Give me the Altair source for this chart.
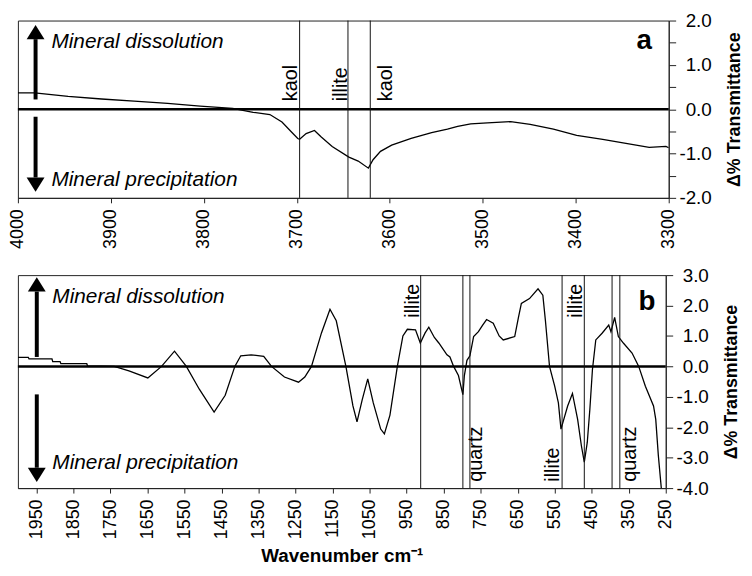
import altair as alt
import pandas as pd

FONT = "Liberation Sans"

# ---------------- panel a (4000-3300 cm-1) ----------------
a_wn = [4000, 3982, 3946, 3910, 3875, 3839, 3804, 3769, 3747, 3729, 3716, 3706, 3699, 3697,
        3690, 3681, 3674, 3662, 3644, 3634, 3623, 3618, 3610, 3598, 3577, 3555, 3538,
        3527, 3513, 3495, 3470, 3449, 3424, 3399, 3371, 3346, 3321, 3303, 3300]
a_val = [0.37, 0.37, 0.29, 0.23, 0.18, 0.13, 0.07, 0.02, -0.07, -0.12, -0.29, -0.51, -0.66, -0.68,
         -0.55, -0.48, -0.62, -0.84, -1.08, -1.17, -1.33, -1.14, -0.95, -0.81, -0.66, -0.53, -0.45,
         -0.39, -0.33, -0.31, -0.28, -0.34, -0.45, -0.59, -0.68, -0.77, -0.86, -0.84, -0.87]
a_xticks = [4000, 3900, 3800, 3700, 3600, 3500, 3400, 3300]
a_yticks = [-2.0, -1.5, -1.0, -0.5, 0.0, 0.5, 1.0, 1.5, 2.0]
a_lines = [3697, 3645, 3621]
a_lab_text = ["kaol", "illite", "kaol"]
a_lab_wn = [3700, 3646, 3598]
a_lab_y = [0.18, 0.18, 0.18]

# ---------------- panel b (2000-250 cm-1) ----------------
b_wn = [2000, 1972, 1970, 1908, 1906, 1886, 1884, 1814, 1812, 1740,
        1700, 1649, 1612, 1577, 1545, 1510, 1470, 1440, 1414, 1398,
        1370, 1336, 1315, 1280, 1242, 1225, 1207, 1180, 1157, 1140,
        1114, 1095, 1084, 1070, 1055, 1040, 1020, 1010, 995, 975,
        960, 948, 926, 913, 900, 890, 875, 863, 841, 833,
        823, 810, 798, 794, 787, 779, 769, 756, 745, 734,
        716, 700, 689, 658, 648, 640, 618, 595, 582, 575,
        564, 550, 540, 533, 515, 502, 488, 478, 470, 462,
        455, 448, 439, 422, 404, 398, 388, 378, 364, 341,
        323, 305, 283, 277, 270, 262]
b_val = [0.30, 0.30, 0.25, 0.25, 0.16, 0.16, 0.09, 0.09, 0.02, 0.0,
         -0.15, -0.38, 0.0, 0.5, 0.0, -0.75, -1.5, -0.95, 0.0, 0.35,
         0.38, 0.33, 0.0, -0.35, -0.52, -0.35, 0.0, 1.1, 1.88, 1.5,
         0.0, -1.3, -1.82, -1.1, -0.41, -1.2, -2.06, -2.22, -1.6, 0.0,
         1.0, 1.22, 1.2, 0.77, 1.1, 1.29, 0.95, 0.77, 0.38, 0.31,
         0.0, -0.3, -0.93, -0.3, 0.2, 0.35, 0.98, 1.14, 1.35, 1.54,
         1.42, 1.0, 0.87, 0.98, 1.6, 2.07, 2.23, 2.55, 2.34, 1.5,
         0.0, -0.65, -1.2, -2.06, -1.3, -0.89, -1.74, -2.6, -3.15, -2.5,
         -1.41, -0.1, 0.87, 1.09, 1.36, 1.14, 1.61, 0.98, 0.76, 0.44,
         0.0, -0.65, -1.3, -1.74, -2.93, -4.0]
b_xticks = [1950, 1850, 1750, 1650, 1550, 1450, 1350, 1250, 1150, 1050,
            950, 850, 750, 650, 550, 450, 350, 250]
b_yticks = [-4.0, -3.0, -2.0, -1.0, 0.0, 1.0, 2.0, 3.0]
b_lines = [912, 798, 779, 530, 470, 395, 374]
b_lab_text = ["illite", "quartz", "illite", "illite", "quartz"]
b_lab_wn = [917, 747, 537, 477, 331]
b_lab_y = [1.6, -3.79, -3.79, 1.6, -3.79]

UP = "M-1,0L1,0L0,-1.6Z"
DOWN = "M-1,0L1,0L0,1.6Z"

LABEL_EXPR_HALF = ("datum.value % 1 == 0 ? (datum.value < 0 ? '-' : '') + "
                   "format(abs(datum.value), '.1f') : ''")
LABEL_EXPR = "(datum.value < 0 ? '-' : '') + format(abs(datum.value), '.1f')"


def panel(wn, val, xdom, xticks, xtitle, ydom, yticks, lexpr, vlines,
          lab_wn, lab_y, lab_text, arrow_wn, up, down, mt_wn, mt_y, letter_pos,
          letter, w, h):
    xaxis_kw = dict(values=xticks, format="d", labelAngle=270, labelFontSize=18,
                    labelPadding=6, tickSize=5, labelFlush=False, labelOverlap=False,
                    grid=False)
    if xtitle:
        xaxis_kw.update(title=xtitle, titleFontSize=19, titleFontWeight="bold",
                        titlePadding=8)
    else:
        xaxis_kw.update(title=None)
    X = alt.X("wn:Q", scale=alt.Scale(domain=xdom, nice=False, zero=False),
              axis=alt.Axis(**xaxis_kw))
    Y = alt.Y("v:Q", scale=alt.Scale(domain=ydom, nice=False, zero=False),
              axis=alt.Axis(orient="right", values=yticks, labelExpr=lexpr,
                            labelAlign="right", labelPadding=36, tickSize=7,
                            labelFontSize=19, labelOverlap=False, labelFlush=False,
                            grid=False, title="Δ% Transmittance", titleAngle=270,
                            titleBaseline="top", titlePadding=14, titleFontSize=18,
                            titleFontWeight="bold"))

    line = alt.Chart(pd.DataFrame({"wn": wn, "v": val})).mark_line(
        color="black", strokeWidth=1.3, clip=True).encode(x=X, y=Y)
    zero = alt.Chart(pd.DataFrame({"v": [0.0]})).mark_rule(
        color="black", strokeWidth=2.5).encode(y=Y)
    vl = alt.Chart(pd.DataFrame({"wn": vlines})).mark_rule(
        color="#111", strokeWidth=1).encode(x=X)
    labs = alt.Chart(pd.DataFrame({"wn": lab_wn, "v": lab_y, "t": lab_text})).mark_text(
        angle=270, align="left", baseline="alphabetic", font=FONT, fontSize=20,
        color="black").encode(x=X, y=Y, text="t:N")
    shafts = alt.Chart(pd.DataFrame({"wn": [arrow_wn, arrow_wn],
                                     "v": [up[0], down[0]],
                                     "v2": [up[1], down[1]]})).mark_rule(
        color="black", strokeWidth=4, strokeCap="butt").encode(x=X, y=Y, y2="v2:Q")
    head_up = alt.Chart(pd.DataFrame({"wn": [arrow_wn], "v": [up[1]]})).mark_point(
        shape=UP, size=324, filled=True, color="black", opacity=1, strokeWidth=0
    ).encode(x=X, y=Y)
    head_dn = alt.Chart(pd.DataFrame({"wn": [arrow_wn], "v": [down[1]]})).mark_point(
        shape=DOWN, size=324, filled=True, color="black", opacity=1, strokeWidth=0
    ).encode(x=X, y=Y)
    mtext = alt.Chart(pd.DataFrame({"wn": [mt_wn, mt_wn], "v": mt_y,
                                    "t": ["Mineral dissolution", "Mineral precipitation"]})
                      ).mark_text(align="left", baseline="alphabetic", font=FONT,
                                  fontStyle="italic", fontSize=21, color="black"
                                  ).encode(x=X, y=Y, text="t:N")
    let = alt.Chart(pd.DataFrame({"wn": [letter_pos[0]], "v": [letter_pos[1]],
                                  "t": [letter]})).mark_text(
        align="right", baseline="alphabetic", font=FONT, fontWeight="bold",
        fontSize=28, color="black").encode(x=X, y=Y, text="t:N")
    return alt.layer(line, zero, vl, labs, shafts, head_up, head_dn, mtext, let
                     ).properties(width=w, height=h)


pa = panel(a_wn, a_val, [4000, 3300], a_xticks, None, [-2, 2], a_yticks, LABEL_EXPR_HALF,
           a_lines, a_lab_wn, a_lab_y, a_lab_text, 3981, (0.22, 1.58), (-0.17, -1.54),
           3964, [1.38, -1.74], (3318, 1.36), "a", 657, 179)
pb = panel(b_wn, b_val, [2000, 250], b_xticks, "Wavenumber cm⁻¹", [-4, 3], b_yticks,
           LABEL_EXPR, b_lines, b_lab_wn, b_lab_y, b_lab_text, 1949, (0.31, 2.46),
           (-0.92, -3.33), 1907, [2.08, -3.37], (278, 1.85), "b", 654, 215)

chart = alt.vconcat(pa, pb, spacing=16).properties(
    padding={"left": 0, "top": 0, "right": 0, "bottom": 0}
).configure_view(stroke="#222", strokeWidth=1).configure_axis(
    domainColor="#222", tickColor="#222", labelColor="black", titleColor="black",
    labelFont=FONT, titleFont=FONT
)

chart.save("out.html", embed_options={"renderer": "svg", "actions": False})
